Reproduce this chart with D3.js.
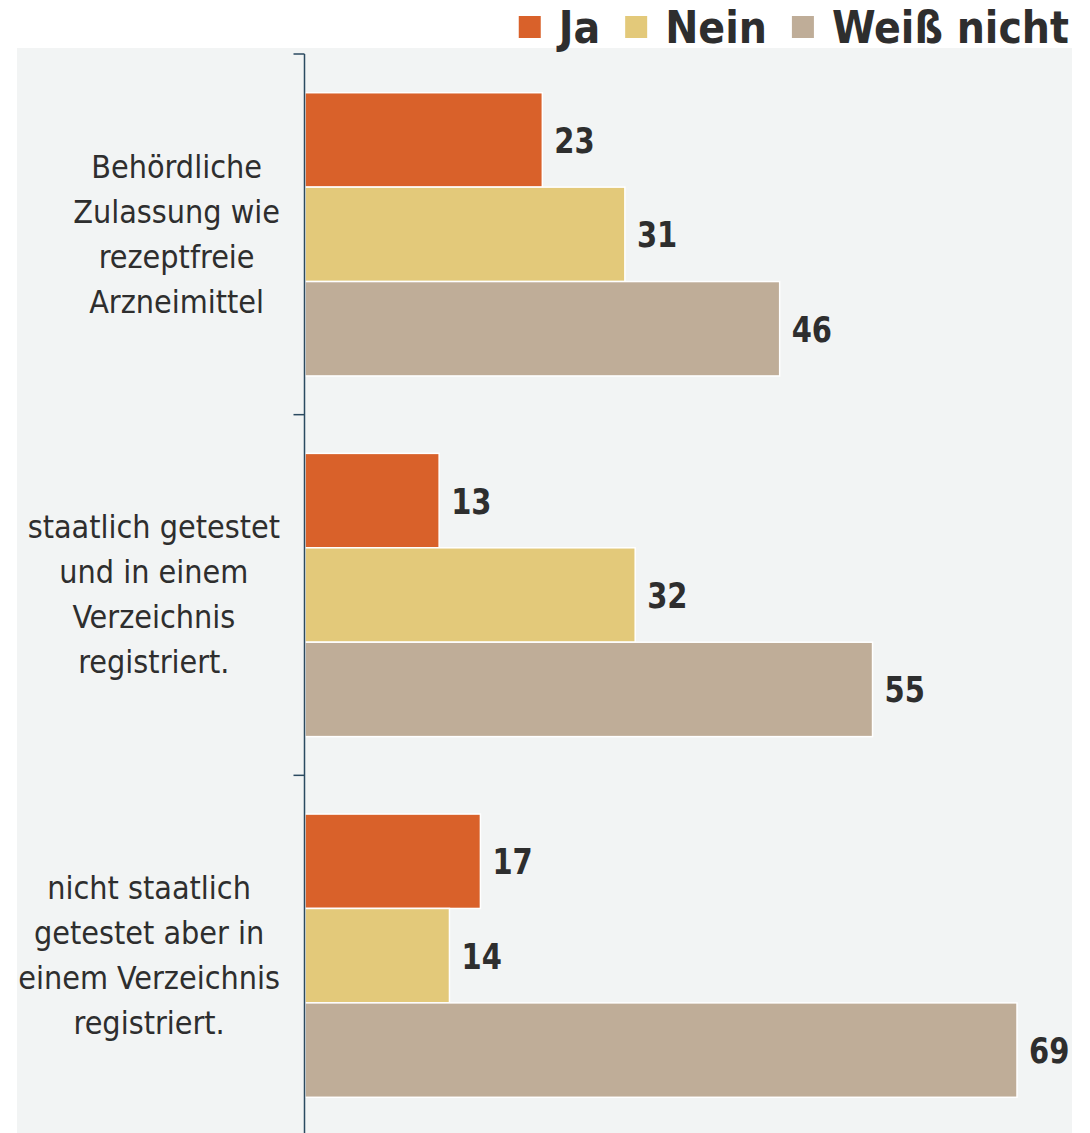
<!DOCTYPE html>
<html>
<head>
<meta charset="utf-8">
<script src="https://cdn.jsdelivr.net/npm/d3@7"></script>
<style>
  html, body { margin: 0; padding: 0; background: #ffffff; }
  svg { display: block; }
  text { font-family: "DejaVu Sans Condensed", "DejaVu Sans", sans-serif; font-stretch: condensed; fill: #2e2e2e; }
  text.val { font-family: "DejaVu Sans", sans-serif; font-stretch: normal; }
</style>
</head>
<body>
<svg id="chart" width="1090" height="1133"></svg>
<script>
// Survey answers per registration model (percent)
const categories = [
  "Behördliche Zulassung wie rezeptfreie Arzneimittel",
  "staatlich getestet und in einem Verzeichnis registriert.",
  "nicht staatlich getestet aber in einem Verzeichnis registriert."
];
const categoryLines = [
  ["Behördliche", "Zulassung wie", "rezeptfreie", "Arzneimittel"],
  ["staatlich getestet", "und in einem", "Verzeichnis", "registriert."],
  ["nicht staatlich", "getestet aber in", "einem Verzeichnis", "registriert."]
];
const seriesNames = ["Ja", "Nein", "Weiß nicht"];
const jaValues = [23, 13, 17];
const neinValues = [31, 32, 14];
const weissValues = [46, 55, 69];
const seriesColors = ["#d9612a", "#e3c97a", "#bfad98"];

const seriesValues = [jaValues, neinValues, weissValues];

const svg = d3.select("#chart");

// plot area
const plot = { left: 17, right: 1072, top: 48, bottom: 1133 };
svg.append("rect")
  .attr("x", plot.left).attr("y", plot.top)
  .attr("width", plot.right - plot.left).attr("height", plot.bottom - plot.top)
  .attr("fill", "#f2f4f4");

const x = d3.scaleLinear().domain([0, 69]).range([305, 1017]);

const y0 = d3.scaleBand().domain(categories).range([54, 1136]).padding(0);
const y1 = d3.scaleBand().domain(seriesNames).range([0, y0.bandwidth()])
  .paddingInner(0).paddingOuter(0.41);

// bars
const rows = categories.map((c, i) => ({
  cat: c,
  lines: categoryLines[i],
  values: seriesNames.map((s, j) => ({ s, v: seriesValues[j][i], color: seriesColors[j] }))
}));

const groups = svg.selectAll("g.cat").data(rows).join("g")
  .attr("class", "cat")
  .attr("transform", d => `translate(0,${y0(d.cat)})`);

groups.selectAll("rect").data(d => d.values).join("rect")
  .attr("x", x(0))
  .attr("y", d => y1(d.s))
  .attr("width", d => x(d.v) - x(0))
  .attr("height", y1.bandwidth())
  .attr("fill", d => d.color)
  .attr("stroke", "#ffffff")
  .attr("stroke-width", 1.5);

// value labels
groups.selectAll("text.val").data(d => d.values).join("text")
  .attr("class", "val")
  .attr("transform", d => `translate(${x(d.v) + 12},${y1(d.s) + y1.bandwidth() / 2 + 13}) scale(1,1.2)`)
  .attr("font-size", 29)
  .attr("font-weight", "bold")
  .text(d => d.v);

// axis: vertical line with ticks at category boundaries
const axisG = svg.append("g").attr("transform", "translate(304.5,0)");
axisG.append("line")
  .attr("x1", 0).attr("x2", 0).attr("y1", 54).attr("y2", 1133)
  .attr("stroke", "#2b4a60").attr("stroke-width", 1.5);
axisG.selectAll("line.tick").data(categories).join("line")
  .attr("class", "tick")
  .attr("x1", -11).attr("x2", 0)
  .attr("y1", d => y0(d)).attr("y2", d => y0(d))
  .attr("stroke", "#2b4a60").attr("stroke-width", 1.5);

// category labels: block right edge at 280, lines centered within block
const lineH = 45;
groups.each(function (d) {
  const g = d3.select(this);
  const n = d.lines.length;
  const texts = g.selectAll("text.lab").data(d.lines).join("text")
    .attr("class", "lab")
    .attr("text-anchor", "middle")
    .attr("font-size", 32)
    .attr("y", (l, i) => y0.bandwidth() / 2 + (i - (n - 1) / 2) * lineH + 11)
    .text(l => l);
  let maxW = 0;
  texts.each(function () { maxW = Math.max(maxW, this.getComputedTextLength()); });
  texts.attr("x", 280 - maxW / 2);
});

// legend, right aligned
const legend = svg.append("g");
let cursor = 1069;
const items = seriesNames.map((s, i) => ({ s, color: seriesColors[i] })).reverse();
items.forEach(it => {
  const t = legend.append("text")
    .attr("font-size", 44)
    .attr("font-weight", "bold")
    .attr("y", 43)
    .text(it.s);
  const w = t.node().getComputedTextLength();
  t.attr("x", cursor - w);
  legend.append("rect")
    .attr("x", cursor - w - 40).attr("y", 16)
    .attr("width", 22).attr("height", 22)
    .attr("fill", it.color);
  cursor = cursor - w - 40 - 25;
});
</script>
</body>
</html>
